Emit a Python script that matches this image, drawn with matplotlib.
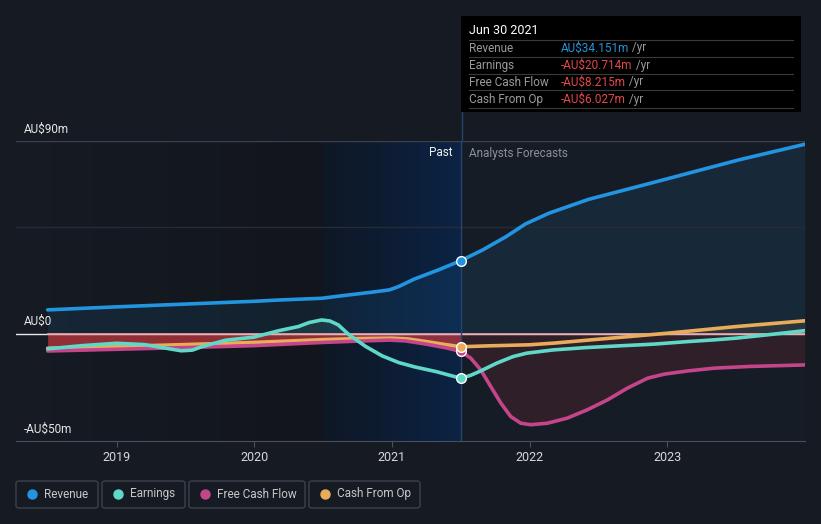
import numpy as np
import matplotlib
matplotlib.use('Agg')
import matplotlib.pyplot as plt
from matplotlib.patches import Rectangle, FancyBboxPatch
from matplotlib.lines import Line2D

plt.rcParams['font.family'] = ['Roboto', 'DejaVu Sans']

# points (AU$ m), x in fractional years
rev_x = [2018.5, 2019.0, 2019.5, 2020.0, 2020.18, 2020.49, 2020.69, 2020.85, 2020.98,
         2021.05, 2021.16, 2021.34, 2021.5, 2021.66, 2021.83, 2021.97, 2022.14,
         2022.43, 2022.92, 2023.52, 2024.0]
revenue = [11.2, 12.6, 13.9, 15.2, 15.8, 16.6, 18.2, 19.4, 20.5,
           22.1, 25.5, 29.9, 34.151, 39.2, 45.4, 51.3, 56.3,
           62.8, 71.0, 81.2, 88.5]

earn_x = [2018.5, 2018.75, 2019.0, 2019.2, 2019.35, 2019.47, 2019.55, 2019.62, 2019.79,
          2020.0, 2020.18, 2020.32, 2020.40, 2020.49, 2020.55, 2020.61, 2020.69,
          2020.81, 2020.93, 2021.05, 2021.17, 2021.32, 2021.5, 2021.57, 2021.645,
          2021.76, 2021.88, 2021.98, 2022.17, 2022.41, 2022.65, 2022.9, 2023.15,
          2023.34, 2023.5, 2023.75, 2024.0]
earnings = [-7.0, -5.5, -4.4, -5.0, -6.6, -7.9, -7.6, -6.0, -3.0,
            -1.5, 1.5, 3.4, 5.3, 6.5, 6.0, 4.2, -0.5,
            -5.9, -10.3, -13.4, -15.5, -17.6, -20.714, -19.4, -17.3,
            -13.7, -10.6, -9.0, -7.5, -6.4, -5.6, -4.8, -3.6,
            -2.8, -2.0, -0.3, 1.5]

fcf_x = [2018.5, 2019.0, 2019.5, 2020.0, 2020.5, 2020.75, 2020.98, 2021.1, 2021.25,
         2021.4, 2021.5, 2021.572, 2021.645, 2021.718, 2021.791, 2021.863, 2021.936,
         2022.009, 2022.129, 2022.275, 2022.42, 2022.566, 2022.711, 2022.857,
         2022.978, 2023.148, 2023.342, 2023.6, 2024.0]
fcf = [-8.0, -7.2, -6.4, -5.5, -4.0, -3.4, -2.9, -3.3, -4.8,
       -6.6, -8.215, -11.3, -16.8, -24.6, -32.3, -38.6, -41.7,
       -42.4, -41.7, -39.3, -35.4, -30.8, -25.3, -20.7,
       -18.8, -17.3, -16.0, -15.2, -14.5]

cfo_x = [2018.5, 2019.0, 2019.5, 2020.0, 2020.5, 2020.75, 2021.0, 2021.12, 2021.25,
         2021.38, 2021.5, 2021.7, 2022.0, 2022.18, 2022.5, 2022.7, 2023.0, 2023.5, 2024.0]
cfo = [-6.7, -5.9, -5.0, -4.0, -2.7, -2.2, -2.0, -2.4, -3.6,
       -4.9, -6.027, -5.6, -5.1, -4.3, -2.5, -1.4, 0.3, 3.4, 6.1]

year_ticks = [2019, 2020, 2021, 2022, 2023]
now = 2021.5
past_start = 2020.5

BG = '#151a23'
C_REV = '#2394df'
C_EARN = '#5fd8c8'
C_FCF = '#c4458a'
C_CFO = '#e8ac5a'
RED = '#e2474b'

W, H = 821, 524
fig = plt.figure(figsize=(W / 100, H / 100), dpi=100, facecolor=BG)


def fx(px):
    return px / W


def fy(py):
    return 1 - py / H


ax = fig.add_axes([fx(16), fy(441), fx(805) - fx(16), fy(141) - fy(441)])
ax.set_facecolor('#161c26')
x0, x1 = 2018.27, 2024.0
y0, y1 = -50, 90

# background bands
grad = np.linspace(0, 1, 256)[None, :, None]
left_c = np.array([22, 27, 36]) / 255
right_c = np.array([18, 21, 27]) / 255
ax.imshow(left_c + (right_c - left_c) * grad, extent=[x0, past_start, y0, y1],
          aspect='auto', zorder=0)
pl = np.array([15, 23, 37]) / 255
pr = np.array([11, 35, 68]) / 255
ax.imshow(pl + (pr - pl) * grad, extent=[past_start, now, y0, y1],
          aspect='auto', zorder=0)
ax.set_xlim(x0, x1)
ax.set_ylim(y0, y1)

fx_arr = np.array(fcf_x)
fcf_arr = np.array(fcf)
past = fx_arr <= now
fut = fx_arr >= now

# fills
ax.fill_between(rev_x, 0, revenue, color=C_REV, alpha=0.10, lw=0, zorder=1)
ax.fill_between(fx_arr[past], 0, fcf_arr[past], color='#d43a42', alpha=0.65, lw=0, zorder=1)
ax.fill_between(fx_arr[fut], 0, fcf_arr[fut], color='#b0303a', alpha=0.16, lw=0, zorder=1)
ax.fill_between(earn_x, 0, earnings, where=np.array(earnings) > 0, interpolate=True,
                color=C_EARN, alpha=0.12, lw=0, zorder=1)
ax.fill_between(cfo_x, 0, cfo, where=np.array(cfo) > 0, interpolate=True,
                color=C_CFO, alpha=0.10, lw=0, zorder=1)

# grid lines
ax.axhline(90, color='#3b414c', lw=1, zorder=1)
ax.axhline(50, color='#262c36', lw=1, zorder=1)
ax.axhline(0, color='#e8e8e8', lw=1, zorder=1)
ax.plot([rev_x[0], rev_x[-1]], [0, 0], color='#eaa3aa', lw=1.2, zorder=2)
ax.axvline(now, color='#24466e', lw=1, zorder=2)
fig.add_artist(Line2D([fx(461.5)] * 2, [fy(112), fy(141)], transform=fig.transFigure,
                      color='#24466e', lw=1))

# series
series = [(rev_x, revenue, C_REV), (cfo_x, cfo, C_CFO), (fcf_x, fcf, C_FCF),
          (earn_x, earnings, C_EARN)]
for xs, vals, c in series:
    ax.plot(xs, vals, color=c, lw=2.6, solid_capstyle='round',
            solid_joinstyle='round', zorder=3)
for xs, vals, c in [series[0], series[3], series[2], series[1]]:
    ax.plot([now], [vals[xs.index(now)]], 'o', ms=7, mfc=c, mec='white',
            mew=1, zorder=4)

for s in ['top', 'right', 'left']:
    ax.spines[s].set_visible(False)
ax.spines['bottom'].set_color('#4a505a')
ax.set_yticks([])
ax.set_xticks(year_ticks)
ax.set_xticklabels([str(t) for t in year_ticks])
ax.tick_params(axis='x', colors='#4a505a', labelcolor='#d8d8d8',
               labelsize=9, length=4, pad=3)

# y labels
for txt, py in [('AU$90m', 129), ('AU$0', 321), ('-AU$50m', 429)]:
    fig.text(fx(24), fy(py), txt, color='#e6e6e6', fontsize=8.5,
             ha='left', va='center')

fig.text(fx(453), fy(153), 'Past', color='#f0f0f0', fontsize=8.5, ha='right', va='center')
fig.text(fx(469), fy(153), 'Analysts Forecasts', color='#8a8f98', fontsize=8.5,
         ha='left', va='center')

# tooltip
fig.add_artist(Rectangle((fx(461), fy(112)), fx(801) - fx(461), fy(16) - fy(112),
                         transform=fig.transFigure, facecolor='#000000',
                         edgecolor='none', zorder=5))
fig.text(fx(469), fy(31), 'Jun 30 2021', color='white', fontsize=9,
         ha='left', va='center', zorder=6)
rows = [('Revenue', 'AU$34.151m', C_REV), ('Earnings', '-AU$20.714m', RED),
        ('Free Cash Flow', '-AU$8.215m', RED), ('Cash From Op', '-AU$6.027m', RED)]
for i, (lab, val, c) in enumerate(rows):
    py = 48 + i * 17
    fig.add_artist(Line2D([fx(469), fx(793)], [fy(py - 8.5)] * 2,
                          transform=fig.transFigure, color='#3a3a3a', lw=0.8, zorder=6))
    fig.text(fx(469), fy(py), lab, color='#9a9a9a', fontsize=8.5, ha='left',
             va='center', zorder=6)
    t = fig.text(fx(561), fy(py), val, color=c, fontsize=8.5, ha='left',
                 va='center', zorder=6)
    fig.add_artist(plt.Annotation(' /yr', xy=(1, 0.5), xycoords=t,
                                  color='#9a9a9a', fontsize=8.5, va='center',
                                  ha='left', zorder=6))
fig.add_artist(Line2D([fx(469), fx(793)], [fy(108)] * 2, transform=fig.transFigure,
                      color='#3a3a3a', lw=0.8, zorder=6))

# legend boxes
legend = [('Revenue', C_REV, 16, 98), ('Earnings', C_EARN, 102, 185),
          ('Free Cash Flow', C_FCF, 189, 305), ('Cash From Op', C_CFO, 309, 420)]
for lab, c, l, r in legend:
    fig.add_artist(FancyBboxPatch((fx(l), fy(508)), fx(r) - fx(l), fy(481) - fy(508),
                                  boxstyle='round,pad=0,rounding_size=0.004',
                                  transform=fig.transFigure, facecolor='none',
                                  edgecolor='#3c414b', lw=1))
    fig.add_artist(Line2D([fx(l + 16)], [fy(494)], marker='o', ms=6.5, mfc=c,
                          mec=c, transform=fig.transFigure))
    fig.text(fx(l + 28), fy(494), lab, color='#c8c8c8', fontsize=8.5,
             ha='left', va='center')

fig.savefig('out.png', dpi=100, facecolor=BG)
